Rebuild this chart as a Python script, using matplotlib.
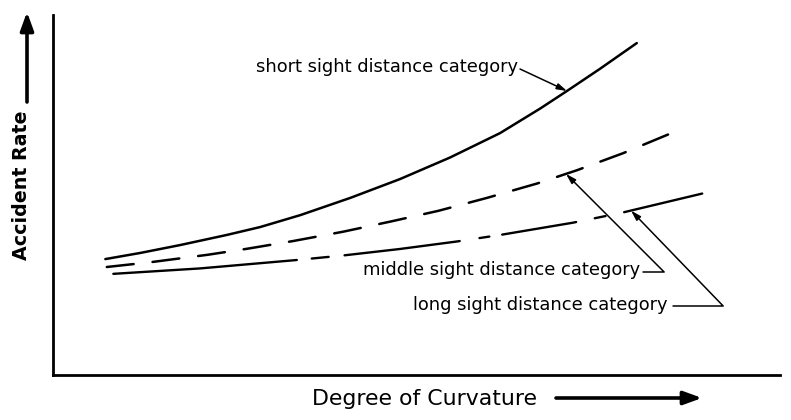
import numpy as np
import matplotlib
matplotlib.use("Agg")
import matplotlib.pyplot as plt

plt.rcParams['font.family'] = ['DejaVu Sans']
plt.rcParams['lines.scale_dashes'] = False

# Data (arbitrary units: degree of curvature 0-10, accident rate 0-10)
short_x = [0.72, 1.20, 1.75, 2.39, 2.85, 3.40, 4.09, 4.77, 5.46, 6.15, 6.70, 7.07, 7.52, 8.03]
short_y = [3.22, 3.39, 3.61, 3.89, 4.11, 4.44, 4.92, 5.44, 6.04, 6.72, 7.40, 7.89, 8.50, 9.22]

middle_x = [0.74, 1.33, 2.13, 2.68, 3.30, 3.99, 4.66, 5.30, 5.97, 6.66, 7.21, 7.84, 8.46]
middle_y = [3.00, 3.13, 3.34, 3.51, 3.72, 3.98, 4.27, 4.56, 4.92, 5.32, 5.69, 6.16, 6.68]

long_x = [0.83, 2.02, 3.33, 3.99, 4.77, 5.56, 6.15, 7.15, 7.83, 8.93]
long_y = [2.81, 2.96, 3.19, 3.32, 3.50, 3.71, 3.89, 4.23, 4.51, 5.04]

labels = ["short sight distance category",
          "middle sight distance category",
          "long sight distance category"]
x_label = "Degree of Curvature"
y_label = "Accident Rate"

W, H = 791, 420
fig = plt.figure(figsize=(W / 100, H / 100), dpi=100)
ax = fig.add_axes([53 / W, 45 / H, (780 - 53) / W, (375 - 15) / H])
ax.set_xlim(0, 10)
ax.set_ylim(0, 10)
for s in ['top', 'right']:
    ax.spines[s].set_visible(False)
for s in ['left', 'bottom']:
    ax.spines[s].set_linewidth(2.0)
ax.set_xticks([])
ax.set_yticks([])

k = 0.72  # px -> pt
ax.plot(short_x, short_y, color='black', lw=1.8, solid_capstyle='round',
        solid_joinstyle='round')
ax.plot(middle_x, middle_y, color='black', lw=1.8,
        linestyle=(0, (27 * k, 19 * k)), dash_capstyle='round')
ax.plot(long_x, long_y, color='black', lw=1.7,
        linestyle=(0, (184 * k, 15 * k, 17 * k, 16 * k, 116 * k, 20 * k, 10 * k, 13 * k,
                       75 * k, 19 * k, 11 * k, 19 * k, 90 * k, 40 * k)),
        dash_capstyle='round')

def px(x, y):
    return ((x - 53) / 72.7, (375 - y) / 36.0)

fs = 12.9
arrow_kw = dict(arrowstyle='-|>,head_length=0.6,head_width=0.18', color='black',
                lw=1.1, shrinkA=0, shrinkB=0)

# short label
tx, ty = px(518, 67)
ax.text(tx, ty, labels[0], ha='right', va='center', fontsize=fs)
tip_x = 7.07
ax.annotate('', xy=(tip_x, np.interp(tip_x, short_x, short_y)), xytext=px(520, 69),
            arrowprops=arrow_kw, annotation_clip=False)

# middle label
tx, ty = px(640, 270)
ax.text(tx, ty, labels[1], ha='right', va='center', fontsize=fs)
tip_x = px(566, 0)[0]
ax.annotate('', xy=(tip_x, np.interp(tip_x, middle_x, middle_y)), xytext=px(643, 272),
            arrowprops=dict(connectionstyle='angle,angleA=0,angleB=-45,rad=0', **arrow_kw),
            annotation_clip=False)

# long label
tx, ty = px(668, 305)
ax.text(tx, ty, labels[2], ha='right', va='center', fontsize=fs)
tip_x = px(631, 0)[0]
ax.annotate('', xy=(tip_x, np.interp(tip_x, long_x, long_y)), xytext=px(673, 306),
            arrowprops=dict(connectionstyle='angle,angleA=0,angleB=-46,rad=0', **arrow_kw),
            annotation_clip=False)

# axis labels with arrows
fig.text(22 / W, 1 - 185 / H, y_label, rotation=90, ha='center', va='center',
         fontsize=13.7, fontweight='bold')
fig.text(424 / W, 1 - 399 / H, x_label, ha='center', va='center', fontsize=15.8)
big_arrow = dict(arrowstyle='-|>,head_length=1.1,head_width=0.4', color='black',
                 lw=2.6, shrinkA=0, shrinkB=0)
ax.annotate('', xy=(27, H - 12), xytext=(27, H - 102), xycoords='figure pixels',
            textcoords='figure pixels', arrowprops=big_arrow)
ax.annotate('', xy=(702, H - 398), xytext=(556, H - 398), xycoords='figure pixels',
            textcoords='figure pixels', arrowprops=big_arrow)

fig.savefig('out.png', dpi=100)
